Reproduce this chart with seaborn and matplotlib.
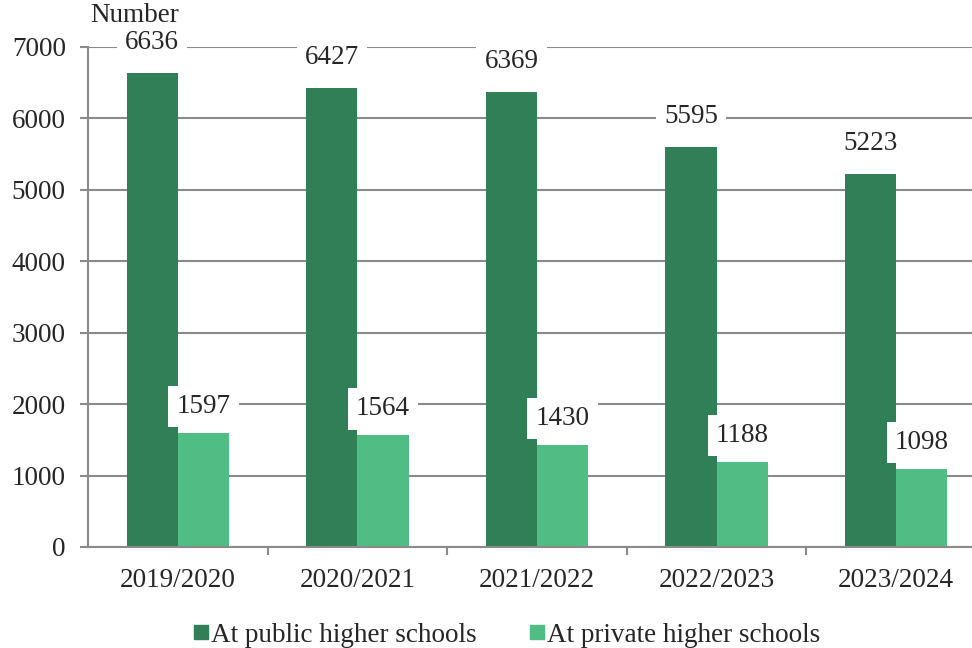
import pandas as pd
import matplotlib
matplotlib.use("Agg")
import matplotlib.pyplot as plt
import seaborn as sns

# data
years = ['2019/2020', '2020/2021', '2021/2022', '2022/2023', '2023/2024']
public = [6636, 6427, 6369, 5595, 5223]
private = [1597, 1564, 1430, 1188, 1098]
series = ['At public higher schools', 'At private higher schools']
colors = ['#307F57', '#50BE84']

df = pd.DataFrame({
    'year': years * 2,
    'value': public + private,
    'type': [series[0]] * len(years) + [series[1]] * len(years),
})

sns.set_theme(style="white")
plt.rcParams['font.family'] = ['Liberation Serif', 'DejaVu Serif']
fs = 19.5

fig = plt.figure(figsize=(9.72, 6.48), dpi=100)
ax = fig.add_axes([88 / 972, 1 - 547 / 648, 898 / 972, 500 / 648])

sns.barplot(data=df, x='year', y='value', hue='type', palette=colors,
            width=0.57, saturation=1, linewidth=0, ax=ax, legend=False, zorder=2)

ax.set_ylim(0, 7000)
ax.set_xlim(-0.5, 4.5)
ax.set_yticks(range(0, 7001, 1000))
ax.yaxis.grid(True, color='#8a8a8a', linewidth=1.5, zorder=0)
ax.set_axisbelow(True)
ax.set_xlabel('')
ax.set_ylabel('')

for side in ['top', 'right']:
    ax.spines[side].set_visible(False)
for side in ['left', 'bottom']:
    ax.spines[side].set_color('#8a8a8a')
    ax.spines[side].set_linewidth(1.5)

ax.tick_params(axis='y', which='major', left=True, length=6, width=1.5,
               color='#8a8a8a', labelsize=fs, pad=10)
ax.tick_params(axis='x', which='major', bottom=False, labelsize=fs, pad=9)
ax.set_xticks([0.5, 1.5, 2.5, 3.5], minor=True)
ax.tick_params(axis='x', which='minor', bottom=True, length=6, width=1.5,
               color='#8a8a8a')

# value labels with white boxes
for cont, offs in zip(ax.containers, [22, 19]):
    for bar in cont:
        h = bar.get_height()
        ax.annotate(f'{int(h)}', (bar.get_x() + bar.get_width() / 2, h),
                    xytext=(0, offs), textcoords='offset points',
                    ha='center', va='center', fontsize=fs, zorder=5,
                    bbox=dict(boxstyle='square,pad=0.3', fc='white', ec='none'))

fig.text(135 / 972, 1 - 15 / 648, 'Number', ha='center', va='center', fontsize=fs)

handles = [plt.Line2D([], [], marker='s', linestyle='', markersize=10, color=c) for c in colors]
fig.legend(handles, series, loc='center', bbox_to_anchor=(0.522, 1 - 635 / 648),
           ncol=2, frameon=False, fontsize=fs, handlelength=0.5, handletextpad=0.1,
           columnspacing=2.0)

fig.savefig('out.png', dpi=100)
